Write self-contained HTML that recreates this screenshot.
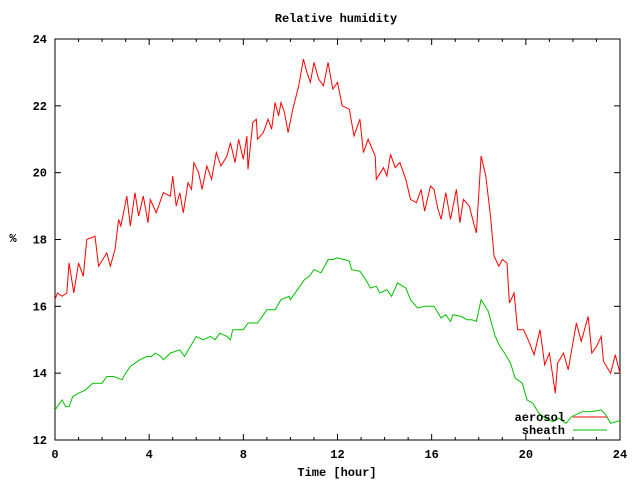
<!DOCTYPE html>
<html><head><meta charset="utf-8"><style>
body{margin:0;background:#fff}
svg{display:block;font-family:"Liberation Mono","DejaVu Sans Mono",monospace;font-weight:bold;font-size:12px}
</style></head><body>
<svg id="chart" width="640" height="480">
<text x="336" y="22" text-anchor="middle">Relative humidity</text>
<text x="337" y="476" text-anchor="middle">Time [hour]</text>
<text x="13" y="242" text-anchor="middle">%</text>
<g id="axes"></g>
<g id="series"></g>
<g>
<text x="565" y="421" text-anchor="end">aerosol</text>
<line x1="573" y1="417" x2="607" y2="417" stroke="#ff0000"/>
<text x="565" y="434" text-anchor="end">sheath</text>
<line x1="573" y1="430" x2="607" y2="430" stroke="#00c000"/>
</g>
</svg>
<script>
const xTicks=[0,4,8,12,16,20,24];
const yTicks=[12,14,16,18,20,22,24];
const aerosolHours=[0,0.1,0.3,0.5,0.6,0.8,1.0,1.2,1.35,1.7,1.85,2.2,2.35,2.55,2.7,2.8,3.05,3.2,3.4,3.55,3.75,3.95,4.05,4.3,4.6,4.9,5.0,5.15,5.3,5.45,5.65,5.8,5.9,6.1,6.25,6.45,6.65,6.85,7.05,7.3,7.45,7.65,7.8,8.0,8.15,8.2,8.4,8.55,8.6,8.85,9.05,9.2,9.35,9.5,9.6,9.75,9.9,10.1,10.35,10.55,10.7,10.85,11.0,11.2,11.4,11.6,11.8,12.0,12.2,12.5,12.7,12.95,13.1,13.3,13.6,13.65,13.95,14.1,14.25,14.45,14.65,14.9,15.1,15.35,15.55,15.7,15.95,16.1,16.25,16.4,16.6,16.8,17.05,17.2,17.35,17.6,17.8,17.9,18.1,18.3,18.5,18.65,18.85,19.0,19.2,19.3,19.5,19.65,19.9,20.1,20.35,20.6,20.8,21.0,21.25,21.35,21.6,21.8,22.0,22.15,22.35,22.65,22.8,23.0,23.2,23.3,23.6,23.8,24.0];
const aerosolValues=[16.2,16.4,16.3,16.4,17.3,16.4,17.3,16.9,18.0,18.1,17.2,17.6,17.2,17.7,18.6,18.4,19.3,18.4,19.4,18.7,19.3,18.5,19.2,18.8,19.4,19.3,19.9,19.0,19.4,18.8,19.7,19.5,20.3,20.0,19.5,20.2,19.8,20.6,20.2,20.5,20.9,20.3,21.0,20.4,21.1,20.1,21.5,21.6,21.0,21.2,21.6,21.3,22.1,21.7,22.1,21.8,21.2,21.9,22.6,23.4,23.0,22.7,23.3,22.8,22.6,23.3,22.5,22.7,22.0,21.9,21.1,21.6,20.6,21.0,20.5,19.8,20.15,19.9,20.55,20.15,20.3,19.8,19.2,19.1,19.5,18.85,19.6,19.5,18.95,18.6,19.4,18.6,19.5,18.5,19.2,19.0,18.45,18.2,20.5,19.9,18.7,17.5,17.2,17.4,17.3,16.1,16.4,15.3,15.3,15.0,14.55,15.3,14.25,14.6,13.4,14.3,14.6,14.1,14.9,15.5,14.95,15.7,14.6,14.8,15.1,14.35,14.0,14.55,14.0];
const sheathHours=[0,0.3,0.45,0.6,0.75,1.0,1.3,1.6,2.0,2.2,2.5,2.85,3.0,3.2,3.6,3.9,4.1,4.25,4.5,4.6,4.9,5.3,5.5,5.75,6.0,6.3,6.6,6.8,7.0,7.3,7.45,7.55,8.0,8.2,8.6,8.8,9.0,9.35,9.6,9.95,10.0,10.3,10.6,10.8,11.0,11.3,11.6,11.8,12.0,12.3,12.5,12.6,12.95,13.2,13.4,13.65,13.8,14.1,14.3,14.55,14.9,15.1,15.4,15.7,16.1,16.4,16.6,16.8,16.9,17.25,17.5,17.7,17.9,18.1,18.4,18.7,18.9,19.1,19.35,19.55,19.85,20.05,20.3,20.55,20.85,21.15,21.4,21.7,21.95,22.4,22.8,23.2,23.4,23.6,24.0];
const sheathValues=[12.9,13.2,13.0,13.0,13.3,13.4,13.5,13.7,13.7,13.9,13.9,13.8,14.0,14.2,14.4,14.5,14.5,14.6,14.5,14.4,14.6,14.7,14.5,14.8,15.1,15.0,15.1,15.0,15.2,15.1,15.0,15.3,15.3,15.5,15.5,15.7,15.9,15.9,16.2,16.3,16.2,16.5,16.8,16.9,17.1,17.0,17.4,17.4,17.45,17.4,17.35,17.1,17.05,16.8,16.55,16.6,16.4,16.5,16.3,16.7,16.55,16.2,15.95,16.0,16.0,15.65,15.75,15.55,15.75,15.7,15.6,15.6,15.55,16.2,15.85,15.1,14.8,14.6,14.3,13.85,13.7,13.2,13.1,12.8,12.65,12.55,12.65,12.5,12.7,12.85,12.85,12.9,12.75,12.5,12.58];

const L=55,R=620,T=39,B=440;
const xs=h=>L+(h-0)/(24-0)*(R-L);
const ys=v=>B-(v-12)/(24-12)*(B-T);
const NS='http://www.w3.org/2000/svg';
const axes=document.getElementById('axes');
function mk(tag,attrs,parent){const e=document.createElementNS(NS,tag);for(const k in attrs)e.setAttribute(k,attrs[k]);parent.appendChild(e);return e;}

const frame=mk('rect',{x:L,y:T,width:R-L,height:B-T,fill:'none',stroke:'#000'},axes);



for(let h=0;h<=24;h++){
  const x=xs(h);const len=(h%4===0)?6:3;
  const t1=mk('line',{x1:x,y1:B,x2:x,y2:B-len,stroke:'#000'},axes);
  
  
  const t2=mk('line',{x1:x,y1:T,x2:x,y2:T+len,stroke:'#000'},axes);
  
  
}
xTicks.forEach(h=>{
  const t=mk('text',{x:xs(h),y:B+18,'text-anchor':'middle'},axes);t.textContent=h;
  
  
});
yTicks.forEach(v=>{
  const y=ys(v);
  const a=mk('line',{x1:L,y1:y,x2:L+6,y2:y,stroke:'#000'},axes);
  
  
  const b=mk('line',{x1:R,y1:y,x2:R-6,y2:y,stroke:'#000'},axes);
  
  
  const t=mk('text',{x:L-8,y:y+4,'text-anchor':'end'},axes);t.textContent=v;
  
  
});
const series=document.getElementById('series');
function line(hs,vs,color,name){
  const pts=hs.map((h,i)=>xs(h).toFixed(1)+','+ys(vs[i]).toFixed(1)).join(' ');
  const p=mk('polyline',{points:pts,fill:'none',stroke:color,'stroke-width':1},series);
  
  
}
line(aerosolHours,aerosolValues,'#ff0000','aerosol-line');
line(sheathHours,sheathValues,'#00c000','sheath-line');
</script>
</body></html>
